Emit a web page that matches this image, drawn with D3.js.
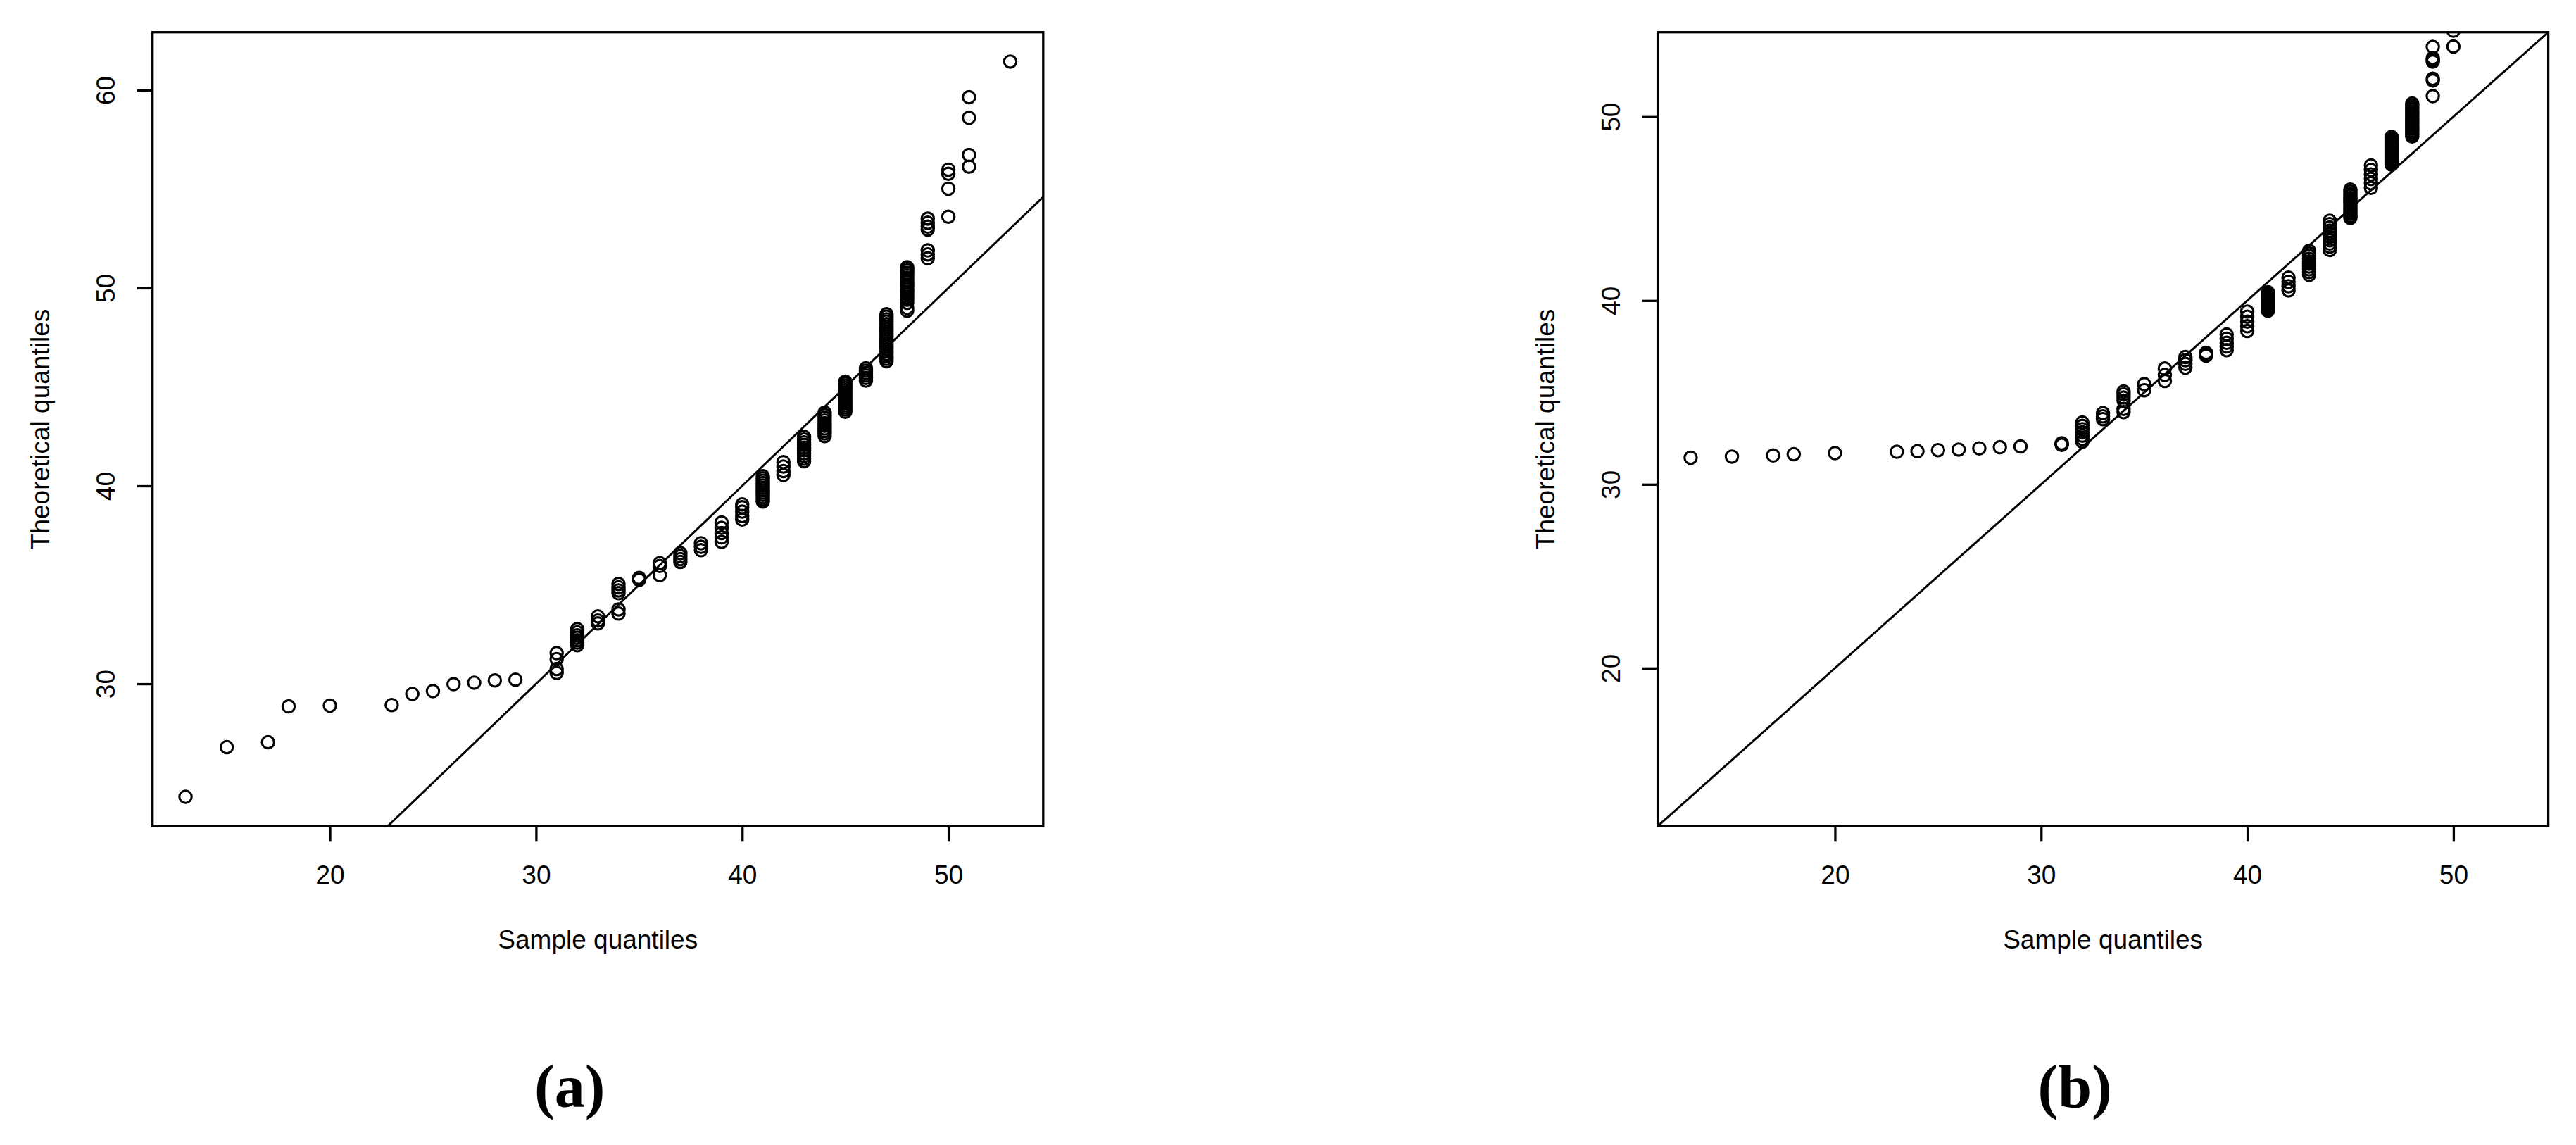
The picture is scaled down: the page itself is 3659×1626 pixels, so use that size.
<!DOCTYPE html>
<html>
<head>
<meta charset="utf-8">
<script src="https://cdn.jsdelivr.net/npm/d3@7"></script>
<style>
  html, body { margin: 0; padding: 0; background: #fff; }
  svg { display: block; }
  text { fill: #000; }
</style>
</head>
<body>
<svg id="chart" width="3659" height="1626"></svg>
<script>
// ---------------- data ----------------
const sampleQuantiles = [
  13,15,17,18,20,23,24,25,26,27,28,29,
  31,31,31,31,
  32,32,32,32,32,32,32,
  33,33,33,
  34,34,34,34,34,34,
  35,35,
  36,36,36,
  37,37,37,37,
  38,38,38,
  39,39,39,39,39,
  40,40,40,40,40,
  41,41,41,41,41,41,41,41,41,41,41,41,
  42,42,42,42,
  43,43,43,43,43,43,43,43,43,43,
  44,44,44,44,44,44,44,44,44,44,
  45,45,45,45,45,45,45,45,45,45,45,45,45,45,45,
  46,46,46,46,46,46,
  47,47,47,47,47,47,47,47,47,47,47,47,47,47,47,47,47,47,47,47,
  48,48,48,48,48,48,48,48,48,48,48,48,48,48,48,48,48,48,
  49,49,49,49,49,49,49,
  50,50,50,50,
  51,51,51,51,
  53
];
const theoreticalA = [
  24.29,26.80,27.05,28.86,28.90,28.93,29.49,29.63,29.98,30.06,30.17,30.21,
  30.55,30.75,31.25,31.55,
  31.95,32.08,32.20,32.33,32.45,32.60,32.76,
  33.05,33.20,33.41,
  33.55,33.76,34.58,34.72,34.88,35.05,
  35.25,35.35,
  35.49,35.95,36.10,
  36.16,36.30,36.45,36.60,
  36.75,36.92,37.10,
  37.17,37.40,37.62,37.88,38.15,
  38.30,38.48,38.70,38.92,39.07,
  39.21,39.32,39.43,39.55,39.66,39.77,39.90,40.02,40.14,40.26,40.38,40.49,
  40.55,40.75,40.98,41.20,
  41.25,41.38,41.52,41.65,41.80,41.93,42.07,42.20,42.34,42.47,
  42.52,42.65,42.78,42.90,43.03,43.17,43.30,43.43,43.57,43.70,
  43.75,43.86,43.97,44.08,44.19,44.30,44.40,44.51,44.62,44.73,44.84,44.95,45.06,45.17,45.27,
  45.32,45.45,45.58,45.70,45.82,45.94,
  46.30,46.42,46.55,46.67,46.80,46.92,47.05,47.17,47.30,47.42,47.55,47.67,47.80,47.92,48.05,48.18,48.30,48.42,48.55,48.67,
  48.85,49.00,49.25,49.40,49.55,49.68,49.80,49.92,50.04,50.16,50.28,50.40,50.52,50.64,50.76,50.88,50.97,51.05,
  51.50,51.70,51.90,52.95,53.10,53.30,53.50,
  53.60,55.02,55.77,55.98,
  56.13,56.72,58.60,59.64,
  61.44
];
const theoreticalB = [
  31.45,31.51,31.57,31.64,31.70,31.77,31.80,31.86,31.89,31.96,32.02,32.06,
  32.15,32.18,32.20,32.23,
  32.32,32.48,32.65,32.83,33.00,33.18,33.36,
  33.55,33.70,33.87,
  33.93,34.10,34.55,34.72,34.90,35.05,
  35.12,35.45,
  35.62,35.95,36.30,
  36.35,36.55,36.75,36.93,
  37.00,37.08,37.16,
  37.30,37.50,37.70,37.92,38.15,
  38.34,38.60,38.85,39.12,39.40,
  39.45,39.54,39.63,39.72,39.81,39.90,39.99,40.08,40.17,40.26,40.35,40.45,
  40.55,40.78,41.02,41.25,
  41.40,41.55,41.70,41.85,42.00,42.13,42.27,42.42,42.56,42.70,
  42.75,42.93,43.10,43.28,43.46,43.63,43.80,43.98,44.16,44.34,
  44.49,44.60,44.71,44.82,44.93,45.04,45.15,45.26,45.37,45.48,45.59,45.70,45.81,45.93,46.04,
  46.13,46.38,46.62,46.86,47.10,47.35,
  47.40,47.48,47.56,47.64,47.72,47.80,47.88,47.96,48.04,48.12,48.20,48.28,48.36,48.44,48.52,48.60,48.68,48.76,48.84,48.90,
  48.93,49.03,49.14,49.24,49.35,49.45,49.56,49.66,49.77,49.87,49.98,50.08,50.19,50.29,50.40,50.50,50.61,50.72,
  51.12,51.97,52.07,53.00,53.10,53.20,53.80,
  53.82,54.68,55.10,55.20,
  55.30,55.60,56.20,56.60,
  57.50
];
const xTickValues = [20, 30, 40, 50];
const yTickValuesA = [30, 40, 50, 60];
const yTickValuesB = [20, 30, 40, 50];
const xTitle = "Sample quantiles";
const yTitle = "Theoretical quantiles";
const captions = ["(a)", "(b)"];

// ---------------- layout ----------------
const svg = d3.select("#chart");
const plotTop = 45.7, plotBottom = 1173.3;
const panels = [
  { left: 216.7, right: 1481.8, y: theoreticalA, yTicks: yTickValuesA, caption: captions[0], yLimFromX: false },
  { left: 2354.6, right: 3619.6, y: theoreticalB, yTicks: yTickValuesB, caption: captions[1], yLimFromX: true }
];
const sansFont = "'Liberation Sans', Arial, Helvetica, sans-serif";
const serifFont = "'Liberation Serif', 'Times New Roman', serif";
const fs = 37;
const lw = 3.3;

// R-style 4% axis extension
function rRange(ext) {
  const d = (ext[1] - ext[0]) * 0.04;
  return [ext[0] - d, ext[1] + d];
}

const xDomain = rRange(d3.extent(sampleQuantiles));

panels.forEach((p, i) => {
  const g = svg.append("g");
  const x = d3.scaleLinear().domain(xDomain).range([p.left, p.right]);
  const yDomain = p.yLimFromX ? xDomain : rRange(d3.extent(p.y));
  const y = d3.scaleLinear().domain(yDomain).range([plotBottom, plotTop]);

  const clipId = "clip" + i;
  svg.append("clipPath").attr("id", clipId)
    .append("rect")
    .attr("x", p.left).attr("y", plotTop)
    .attr("width", p.right - p.left).attr("height", plotBottom - plotTop);

  const plot = g.append("g").attr("clip-path", `url(#${clipId})`);

  // reference line y = x
  plot.append("line")
    .attr("x1", x(xDomain[0])).attr("y1", y(xDomain[0]))
    .attr("x2", x(xDomain[1])).attr("y2", y(xDomain[1]))
    .attr("stroke", "#000").attr("stroke-width", 3);

  // points
  plot.selectAll("circle")
    .data(sampleQuantiles.map((s, k) => [s, p.y[k]]))
    .join("circle")
    .attr("cx", d => x(d[0]))
    .attr("cy", d => y(d[1]))
    .attr("r", 8.7)
    .attr("fill", "none")
    .attr("stroke", "#000")
    .attr("stroke-width", 3.1);

  // frame
  g.append("rect")
    .attr("x", p.left).attr("y", plotTop)
    .attr("width", p.right - p.left).attr("height", plotBottom - plotTop)
    .attr("fill", "none").attr("stroke", "#000").attr("stroke-width", lw);

  // x axis
  const xAxis = d3.axisBottom(x).tickValues(xTickValues).tickSize(22).tickPadding(0).tickFormat(d3.format("d"));
  const gx = g.append("g").attr("transform", `translate(0,${plotBottom})`).call(xAxis);
  gx.select(".domain").remove();
  gx.selectAll(".tick line").attr("stroke", "#000").attr("stroke-width", lw);
  gx.selectAll(".tick text")
    .attr("y", 1255 - plotBottom).attr("dy", null)
    .style("font-family", sansFont).style("font-size", fs + "px")
    .attr("fill", "#000");

  // y axis
  const yAxis = d3.axisLeft(y).tickValues(p.yTicks).tickSize(22).tickPadding(0).tickFormat(d3.format("d"));
  const gy = g.append("g").attr("transform", `translate(${p.left},0)`).call(yAxis);
  gy.select(".domain").remove();
  gy.selectAll(".tick line").attr("stroke", "#000").attr("stroke-width", lw);
  gy.selectAll(".tick text")
    .attr("x", null).attr("dy", null)
    .attr("text-anchor", "middle")
    .attr("transform", "translate(-54,0) rotate(-90)")
    .style("font-family", sansFont).style("font-size", fs + "px")
    .attr("fill", "#000");

  // titles
  const cx = (p.left + p.right) / 2;
  const cy = (plotTop + plotBottom) / 2;
  g.append("text")
    .attr("x", cx).attr("y", 1346.7)
    .attr("text-anchor", "middle")
    .style("font-family", sansFont).style("font-size", fs + "px")
    .text(xTitle);
  g.append("text")
    .attr("transform", `translate(${p.left - 147},${cy}) rotate(-90)`)
    .attr("text-anchor", "middle")
    .style("font-family", sansFont).style("font-size", fs + "px")
    .text(yTitle);

  // caption
  g.append("text")
    .attr("x", cx - 40).attr("y", 1572)
    .attr("text-anchor", "middle")
    .style("font-family", serifFont).style("font-size", "86px").style("font-weight", "bold")
    .text(p.caption);
});
</script>
</body>
</html>
